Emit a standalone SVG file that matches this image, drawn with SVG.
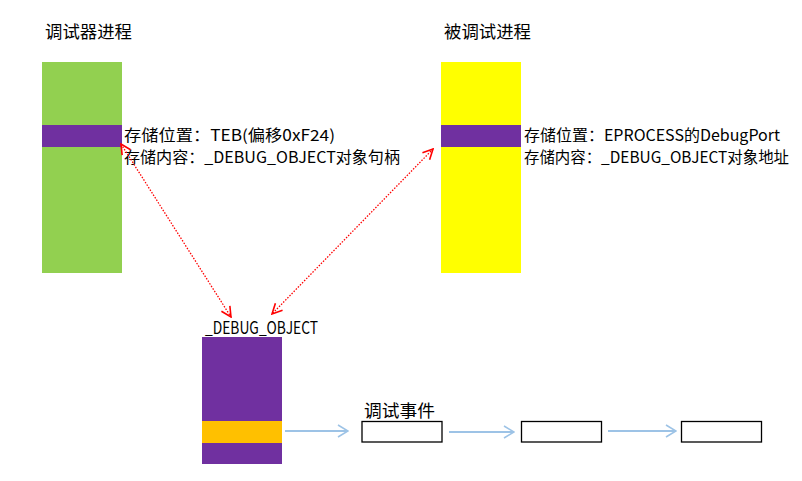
<svg xmlns="http://www.w3.org/2000/svg" width="802" height="481" viewBox="0 0 802 481">
  <style>
    text { font-family: "Noto Sans CJK SC", "Liberation Sans", sans-serif; font-size: 17px; fill: #000; }
    text.note { font-size: 15.5px; }
    .green { fill: #92D050; }
    .yellow { fill: #FFFF00; }
    .purple { fill: #7030A0; }
    .orange { fill: #FFC000; }
    .event { fill: #fff; stroke: #000; stroke-width: 1.3; }
    .link { fill: none; stroke: #FF0000; stroke-width: 1.3; stroke-dasharray: 1.5 1.5; }
    .flow { fill: none; stroke: #9DC3E6; stroke-width: 2; }
  </style>
  <defs>
    <marker id="redHead" viewBox="0 0 12 12" refX="11" refY="6" markerWidth="12" markerHeight="12" markerUnits="userSpaceOnUse" orient="auto-start-reverse">
      <path d="M1,1 L11,6 L1,11" fill="none" stroke="#FF0000" stroke-width="1.6"/>
    </marker>
    <marker id="blueHead" viewBox="0 0 12 14" refX="11" refY="7" markerWidth="12" markerHeight="14" markerUnits="userSpaceOnUse" orient="auto">
      <path d="M1,1 L11,7 L1,13" fill="none" stroke="#9DC3E6" stroke-width="1.6"/>
    </marker>
  </defs>

  <g id="debugger-process">
    <text x="45" y="38" textLength="87" lengthAdjust="spacingAndGlyphs">调试器进程</text>
    <rect class="green" x="42" y="62" width="80" height="211"/>
    <rect class="purple" x="42" y="125" width="80" height="22"/>
    <text class="note" x="124" y="141" textLength="211" lengthAdjust="spacingAndGlyphs">存储位置：TEB(偏移0xF24)</text>
    <text class="note" x="124" y="163" textLength="276" lengthAdjust="spacingAndGlyphs">存储内容：_DEBUG_OBJECT对象句柄</text>
  </g>

  <g id="debuggee-process">
    <text x="444" y="38" textLength="87" lengthAdjust="spacingAndGlyphs">被调试进程</text>
    <rect class="yellow" x="441" y="62" width="80" height="211"/>
    <rect class="purple" x="441" y="125" width="80" height="22"/>
    <text class="note" x="524" y="141" textLength="256" lengthAdjust="spacingAndGlyphs">存储位置：EPROCESS的DebugPort</text>
    <text class="note" x="524" y="163" textLength="265" lengthAdjust="spacingAndGlyphs">存储内容：_DEBUG_OBJECT对象地址</text>
  </g>

  <g id="debug-object">
    <text x="205" y="334" textLength="113" lengthAdjust="spacingAndGlyphs">_DEBUG_OBJECT</text>
    <rect class="purple" x="202" y="337" width="80" height="127"/>
    <rect class="orange" x="202" y="421" width="80" height="22"/>
  </g>

  <g id="event-1">
    <text x="364" y="417" textLength="71" lengthAdjust="spacingAndGlyphs">调试事件</text>
    <rect class="event" x="362" y="421.5" width="80" height="20.5"/>
  </g>
  <g id="event-2">
    <rect class="event" x="521.5" y="421.5" width="80" height="20.5"/>
  </g>
  <g id="event-3">
    <rect class="event" x="681.5" y="421.5" width="80" height="20.5"/>
  </g>

  <g id="connectors">
    <line class="link" x1="121" y1="144" x2="231" y2="317" marker-start="url(#redHead)" marker-end="url(#redHead)"/>
    <line class="link" x1="433" y1="149" x2="272" y2="314" marker-start="url(#redHead)" marker-end="url(#redHead)"/>
    <line class="flow" x1="285" y1="431" x2="348" y2="431" marker-end="url(#blueHead)"/>
    <line class="flow" x1="449" y1="432" x2="514" y2="432" marker-end="url(#blueHead)"/>
    <line class="flow" x1="608" y1="431" x2="676" y2="431" marker-end="url(#blueHead)"/>
  </g>
</svg>
